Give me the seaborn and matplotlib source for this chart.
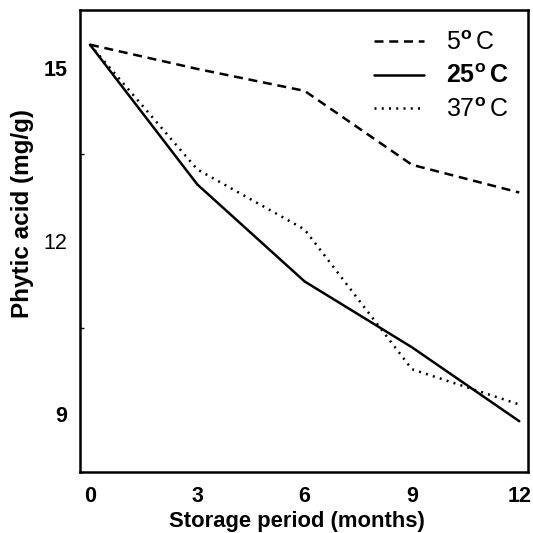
import matplotlib
matplotlib.use("Agg")
import matplotlib.pyplot as plt
import seaborn as sns
import pandas as pd
from matplotlib.ticker import MultipleLocator

sns.set_theme(style="white")
plt.rcParams['font.family'] = ['Liberation Sans', 'DejaVu Sans']
plt.rcParams['text.color'] = 'black'
plt.rcParams['axes.labelcolor'] = 'black'
plt.rcParams['xtick.color'] = 'black'
plt.rcParams['ytick.color'] = 'black'
plt.rcParams['mathtext.fontset'] = 'custom'
plt.rcParams['mathtext.rm'] = 'Liberation Sans'
plt.rcParams['mathtext.bf'] = 'Liberation Sans:bold'

months = [0, 3, 6, 9, 12]
t5 = [15.40, 14.98, 14.60, 13.32, 12.84]
t25 = [15.40, 12.98, 11.30, 10.16, 8.88]
t37 = [15.40, 13.24, 12.20, 9.78, 9.17]
series_names = ["5", "25", "37"]
x_ticks = [0, 3, 6, 9, 12]
y_ticks = [9, 12, 15]

df = pd.DataFrame({
    "month": months * 3,
    "phytic": t5 + t25 + t37,
    "temp": [series_names[0]] * 5 + [series_names[1]] * 5 + [series_names[2]] * 5,
})

fig = plt.figure(figsize=(5.33, 5.33), dpi=100)
ax = fig.add_axes([0.150, 0.1144, 0.841, 0.8668])

dashes = {"5": (3.6, 2.3), "25": "", "37": (0.8, 2.1)}
sns.lineplot(data=df, x="month", y="phytic", style="temp", dashes=dashes,
             color="black", linewidth=1.8, ax=ax, legend=False)

lines = ax.get_lines()
labels = [r"5$^{\mathbf{o}}\,$C", r"25$^{\mathbf{o}}\,$C", r"37$^{\mathbf{o}}\,$C"]
leg = ax.legend(lines[:3], labels, loc="upper right", bbox_to_anchor=(0.993, 0.99),
                frameon=False, fontsize=18, handlelength=2.0, handletextpad=0.9,
                labelspacing=0.38, borderaxespad=0.25)
for i, t in enumerate(leg.get_texts()):
    t.set_fontweight("bold" if i == 1 else "normal")

ax.set_xlim(-0.28, 12.25)
ax.set_ylim(8.0, 16.0)
ax.set_xticks(x_ticks)
ax.set_yticks(y_ticks)
ax.yaxis.set_minor_locator(MultipleLocator(1.5))
ax.set_xticklabels([str(v) for v in x_ticks], fontsize=15.5, fontweight="bold")
ax.set_yticklabels([str(v) for v in y_ticks], fontsize=15.5)
for lab in ax.get_yticklabels():
    if lab.get_text() in ("9", "15"):
        lab.set_fontweight("bold")

ax.tick_params(axis="x", direction="in", length=9, width=1.3, pad=10)
ax.tick_params(axis="y", which="major", direction="in", length=5, width=1.1, pad=9)
ax.tick_params(axis="y", which="minor", direction="in", length=3, width=1.0, left=True)

for s in ax.spines.values():
    s.set_color("black")
    s.set_linewidth(1.8)

ax.set_xlabel("Storage period (months)", fontsize=15.8, fontweight="bold")
ax.set_ylabel("Phytic acid (mg/g)", fontsize=17.5, fontweight="bold")
ax.xaxis.set_label_coords(0.484, -0.085)
ax.yaxis.set_label_coords(-0.103, 0.56)

fig.savefig("out.png", dpi=100)
